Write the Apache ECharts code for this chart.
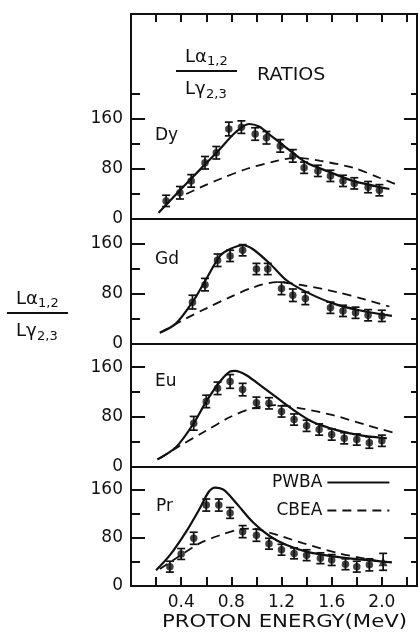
<!DOCTYPE html>
<html><head><meta charset="utf-8">
<script src="https://cdn.jsdelivr.net/npm/echarts@6/dist/echarts.min.js"></script>
<style>html,body{margin:0;padding:0;background:#fff}#c{width:420px;height:635px}</style>
</head><body><div id="c"></div><script>
// ---- data ----
const elements = ['Dy', 'Gd', 'Eu', 'Pr'];
const xLabelTicks = [0.4, 0.8, 1.2, 1.6, 2.0];
const xMinorTicks = [0.2, 0.4, 0.6, 0.8, 1.0, 1.2, 1.4, 1.6, 1.8, 2.0, 2.2];
const yLabelTicks = [0, 80, 160];
const yMinorTicks = [40, 120, 200];

const dyE = [0.28,0.39,0.48,0.59,0.68,0.78,0.88,0.99,1.08,1.19,1.29,1.38,1.49,1.59,1.69,1.78,1.89,1.98];
const dyR = [29,42,61,90,106,144,147,136,130,117,101,82,77,69,61,57,51,46];
const dyErr = [9,10,10,10,10,11,10,10,10,10,10,9,9,9,9,9,9,9];
const dyPwba = [[0.22,10],[0.40,48],[0.55,79],[0.70,110],[0.83,138],[0.94,152],[1.02,148],[1.13,131],[1.29,106],[1.40,90],[1.56,77],[1.77,61],[2.06,48]];
const dyCbea = [[0.44,40],[0.58,53],[0.71,64],[0.92,80],[1.16,93],[1.32,98],[1.51,93],[1.77,82],[1.98,66],[2.12,55]];

const gdE = [0.49,0.59,0.69,0.79,0.89,1.00,1.09,1.20,1.29,1.39,1.59,1.69,1.79,1.89,2.00];
const gdR = [67,95,134,141,150,120,120,89,78,73,58,53,50,46,45];
const gdErr = [11,10,10,9,9,9,9,10,10,10,9,9,9,9,9];
const gdPwba = [[0.23,18],[0.36,33],[0.50,70],[0.60,104],[0.71,141],[0.79,152],[0.89,158],[0.97,152],[1.11,128],[1.24,102],[1.40,83],[1.61,65],[1.82,54],[2.08,45]];
const gdCbea = [[0.23,18],[0.44,41],[0.60,57],[0.79,75],[0.98,91],[1.16,99],[1.37,94],[1.64,83],[1.87,71],[2.06,60]];

const euE = [0.50,0.60,0.69,0.79,0.89,1.00,1.10,1.20,1.30,1.40,1.50,1.60,1.70,1.80,1.90,2.00];
const euR = [70,105,126,137,124,103,102,89,76,66,60,52,46,44,39,42];
const euErr = [11,10,10,11,10,9,9,9,9,9,9,9,9,9,9,9];
const euPwba = [[0.21,12],[0.36,32],[0.50,70],[0.60,105],[0.71,137],[0.79,153],[0.83,154],[0.92,147],[1.05,128],[1.19,107],[1.32,88],[1.45,72],[1.64,59],[1.82,51],[2.04,46]];
const euCbea = [[0.23,14],[0.39,34],[0.58,56],[0.79,80],[0.97,94],[1.16,99],[1.35,94],[1.61,83],[1.88,67],[2.13,53]];

const prE = [0.31,0.40,0.50,0.60,0.70,0.79,0.89,1.00,1.10,1.20,1.30,1.40,1.51,1.60,1.71,1.80,1.90,2.01];
const prR = [32,53,79,134,134,121,90,84,70,60,54,51,46,43,36,32,35,40];
const prErr = [9,9,10,10,10,9,10,10,9,9,9,9,9,9,9,9,10,14];
const prPwba = [[0.20,26],[0.31,51],[0.44,90],[0.55,129],[0.62,156],[0.67,163],[0.74,159],[0.84,137],[0.97,106],[1.11,82],[1.24,68],[1.40,57],[1.61,49],[1.82,44],[2.08,39]];
const prCbea = [[0.23,28],[0.39,50],[0.55,71],[0.71,84],[0.87,94],[0.97,95],[1.11,88],[1.37,71],[1.64,55],[1.90,44],[2.01,40]];

const panelData = [
  {e: dyE, r: dyR, err: dyErr, pwba: dyPwba, cbea: dyCbea},
  {e: gdE, r: gdR, err: gdErr, pwba: gdPwba, cbea: gdCbea},
  {e: euE, r: euR, err: euErr, pwba: euPwba, cbea: euCbea},
  {e: prE, r: prR, err: prErr, pwba: prPwba, cbea: prCbea}
];

// ---- layout ----
const FONT = 'DejaVu Sans';
const INK = '#111';
const gridBoxes = [
  {top: 14, height: 205, yMax: 328},
  {top: 219, height: 125, yMax: 200},
  {top: 344, height: 123, yMax: 197},
  {top: 467, height: 119, yMax: 197}
];
const X_MIN = 0, X_MAX = 2.28;

const grid = gridBoxes.map(b => ({left: 131, width: 286, top: b.top, height: b.height}));
const xAxis = [];
const yAxis = [];
gridBoxes.forEach((b, gi) => {
  const last = gi === 3;
  xAxis.push({
    type: 'value', gridIndex: gi, min: X_MIN, max: X_MAX, interval: 0.2, position: 'bottom',
    axisLine: {show: true, onZero: false, lineStyle: {color: INK, width: 2}},
    axisTick: {show: last, inside: true, length: 9, customValues: xMinorTicks, lineStyle: {color: INK, width: 2}},
    axisLabel: {show: last, customValues: xLabelTicks, margin: 8, fontFamily: FONT, fontSize: 17, color: INK,
      formatter: v => v.toFixed(1)},
    splitLine: {show: false}
  });
  const yCommon = {type: 'value', gridIndex: gi, min: 0, max: b.yMax, interval: 40, splitLine: {show: false}};
  yAxis.push(Object.assign({}, yCommon, {
    position: 'left',
    axisLine: {show: true, lineStyle: {color: INK, width: 2}},
    axisTick: {show: true, inside: true, length: 14, customValues: yLabelTicks, lineStyle: {color: INK, width: 2}},
    axisLabel: {show: true, customValues: yLabelTicks, margin: 8, fontFamily: FONT, fontSize: 17, color: INK}
  }));
  yAxis.push(Object.assign({}, yCommon, {
    position: 'left',
    axisLine: {show: false},
    axisTick: {show: true, inside: true, length: 9, customValues: yMinorTicks, lineStyle: {color: INK, width: 2}},
    axisLabel: {show: false}
  }));
  yAxis.push(Object.assign({}, yCommon, {
    position: 'right',
    axisLine: {show: true, lineStyle: {color: INK, width: 2}},
    axisTick: {show: true, inside: true, length: 13, customValues: yLabelTicks, lineStyle: {color: INK, width: 2}},
    axisLabel: {show: false}
  }));
  yAxis.push(Object.assign({}, yCommon, {
    position: 'right',
    axisLine: {show: false},
    axisTick: {show: true, inside: true, length: 6, customValues: yMinorTicks, lineStyle: {color: INK, width: 2}},
    axisLabel: {show: false}
  }));
});
// top axis of the upper panel
xAxis.push({
  type: 'value', gridIndex: 0, min: X_MIN, max: X_MAX, interval: 0.2, position: 'top',
  axisLine: {show: true, onZero: false, lineStyle: {color: INK, width: 2}},
  axisTick: {show: true, inside: true, length: 8, customValues: xMinorTicks, lineStyle: {color: INK, width: 2}},
  axisLabel: {show: false}, splitLine: {show: false}
});

const series = [];
panelData.forEach((p, gi) => {
  const yi = gi * 4;
  series.push({
    name: 'PWBA', type: 'line', xAxisIndex: gi, yAxisIndex: yi, data: p.pwba, smooth: 0.3,
    symbol: 'none', lineStyle: {color: INK, width: 2.2}, itemStyle: {color: INK}, z: 2, silent: true
  });
  series.push({
    name: 'CBEA', type: 'line', xAxisIndex: gi, yAxisIndex: yi, data: p.cbea, smooth: 0.3,
    symbol: 'none', lineStyle: {color: INK, width: 1.8, type: [9, 6]}, itemStyle: {color: INK}, z: 2, silent: true
  });
  series.push({
    type: 'custom', xAxisIndex: gi, yAxisIndex: yi, silent: true, z: 3,
    data: p.e.map((x, i) => [x, p.r[i] - p.err[i], p.r[i] + p.err[i]]),
    encode: {x: 0, y: [1, 2]},
    renderItem: (params, api) => {
      const x = api.value(0);
      const a = api.coord([x, api.value(2)]);
      const c = api.coord([x, api.value(1)]);
      const w = 4;
      const st = {stroke: INK, lineWidth: 1.7};
      return {type: 'group', children: [
        {type: 'line', shape: {x1: a[0], y1: a[1], x2: c[0], y2: c[1]}, style: st},
        {type: 'line', shape: {x1: a[0] - w, y1: a[1], x2: a[0] + w, y2: a[1]}, style: st},
        {type: 'line', shape: {x1: c[0] - w, y1: c[1], x2: c[0] + w, y2: c[1]}, style: st}
      ]};
    }
  });
  series.push({
    type: 'scatter', xAxisIndex: gi, yAxisIndex: yi, silent: true, z: 4,
    data: p.e.map((x, i) => (gi === 3 && i === p.e.length - 1)
      ? {value: [x, p.r[i]], symbol: 'triangle', symbolSize: 9}
      : [x, p.r[i]]),
    symbol: 'circle', symbolSize: 7.5, itemStyle: {color: INK}
  });
});

function txt(x, y, text, size, extra) {
  return Object.assign({type: 'text', x: x, y: y, silent: true,
    style: {text: text, fontFamily: FONT, fontSize: size, fill: INK, textVerticalAlign: 'middle'}}, extra || {});
}
function fraction(x, y) {
  // numerator / denominator of L-alpha(1,2) over L-gamma(2,3)
  return [
    txt(x, y - 14, 'Lα', 18),
    txt(x + 22, y - 9, '1,2', 13),
    {type: 'line', silent: true, shape: {x1: x - 9, y1: y, x2: x + 52, y2: y}, style: {stroke: INK, lineWidth: 2}},
    txt(x, y + 18, 'Lγ', 18),
    txt(x + 21, y + 24, '2,3', 13)
  ];
}

const graphic = [].concat(
  fraction(185, 71),
  [txt(257, 76, 'RATIOS', 17, {scaleX: 1.12})],
  fraction(16, 313),
  [
    txt(155, 136, 'Dy', 17),
    txt(155, 260, 'Gd', 17),
    txt(155, 382, 'Eu', 17),
    txt(156, 507, 'Pr', 17),
    txt(162, 623, 'PROTON ENERGY(MeV)', 17, {scaleX: 1.25})
  ]
);

const chart = echarts.init(document.getElementById('c'), null, {renderer: 'canvas'});
chart.setOption({
  animation: false,
  backgroundColor: '#fff',
  grid: grid,
  xAxis: xAxis,
  yAxis: yAxis,
  legend: {
    data: ['PWBA', 'CBEA'], orient: 'vertical', left: 272, top: 474, align: 'right',
    itemWidth: 62, itemHeight: 12, itemGap: 11, padding: 0, selectedMode: false,
    itemStyle: {opacity: 0},
    textStyle: {fontFamily: FONT, fontSize: 17, color: INK}
  },
  series: series,
  graphic: graphic
});
</script></body></html>
